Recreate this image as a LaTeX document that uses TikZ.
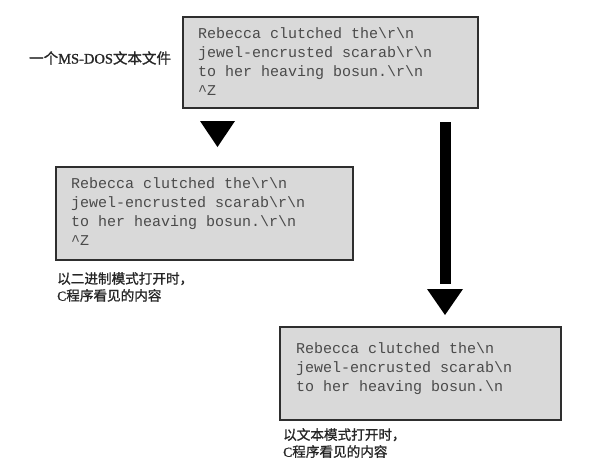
\documentclass[tikz,border=0pt]{standalone}
\usepackage{fontspec}
\setmainfont{Liberation Serif}
\setmonofont{Liberation Mono}
\newfontfamily\cjk{Noto Sans CJK SC}[FakeBold=1.2]
\newfontfamily\lat{Liberation Serif}[FakeBold=1.2]
\definecolor{boxfill}{HTML}{D9D9D9}
\definecolor{boxline}{HTML}{2E2E2E}
\definecolor{codetext}{HTML}{4A4A4A}
\newcommand{\bs}{\textbackslash}
\begin{document}
\begin{tikzpicture}[x=1pt,y=-1pt,
  filebox/.style={draw=boxline, fill=boxfill, line width=2pt, rectangle, inner sep=0pt, anchor=north west},
  code/.style={font=\fontsize{15}{19.3}\selectfont\ttfamily, text=codetext, align=left, anchor=north west, inner sep=0pt},
  lbl/.style={font=\fontsize{13.6}{17}\selectfont\lat, text=black!85, align=left, anchor=north west, inner sep=0pt},
  tri/.style={fill=black, draw=none}]
\useasboundingbox (0,0) rectangle (591,467);

% boxes
\node[filebox, minimum width=295pt, minimum height=91pt] (f1) at (182,16) {};
\node[filebox, minimum width=297pt, minimum height=93pt] (f2) at (55,166) {};
\node[filebox, minimum width=281pt, minimum height=93pt] (f3) at (279,326) {};

% code texts
\node[code] (t1) at (198,27) {Rebecca clutched the\bs r\bs n\\jewel-encrusted scarab\bs r\bs n\\to her heaving bosun.\bs r\bs n\\\textasciicircum Z};
\node[code] (t2) at (71,177) {Rebecca clutched the\bs r\bs n\\jewel-encrusted scarab\bs r\bs n\\to her heaving bosun.\bs r\bs n\\\textasciicircum Z};
\node[code] (t3) at (296,342) {Rebecca clutched the\bs n\\jewel-encrusted scarab\bs n\\to her heaving bosun.\bs n};

% labels
\node[lbl, font=\fontsize{14.5}{17}\selectfont\lat, anchor=west] (l1) at (29,58) {{\cjk 一个}MS-DOS{\cjk 文本文件}};
\node[lbl] (l2) at (57,272) {{\cjk 以二进制模式打开时，}\\C{\cjk 程序看见的内容}};
\node[lbl] (l3) at (283,428) {{\cjk 以文本模式打开时，}\\C{\cjk 程序看见的内容}};

% small arrow (box 1 -> box 2)
\coordinate (a1) at (217.5,121);
\fill[tri] ([xshift=-17.5pt]a1) -- ([xshift=17.5pt]a1) -- ([yshift=-26pt]a1) -- cycle;

% big arrow (box 1 -> box 3)
\coordinate (s1) at (445.5,122);
\coordinate (s2) at (445.5,284);
\coordinate (h1) at (445,289);
\draw[line width=11pt] (s1) -- (s2);
\fill[tri] ([xshift=-18pt]h1) -- ([xshift=18pt]h1) -- ([yshift=-26pt]h1) -- cycle;
\end{tikzpicture}
\end{document}
